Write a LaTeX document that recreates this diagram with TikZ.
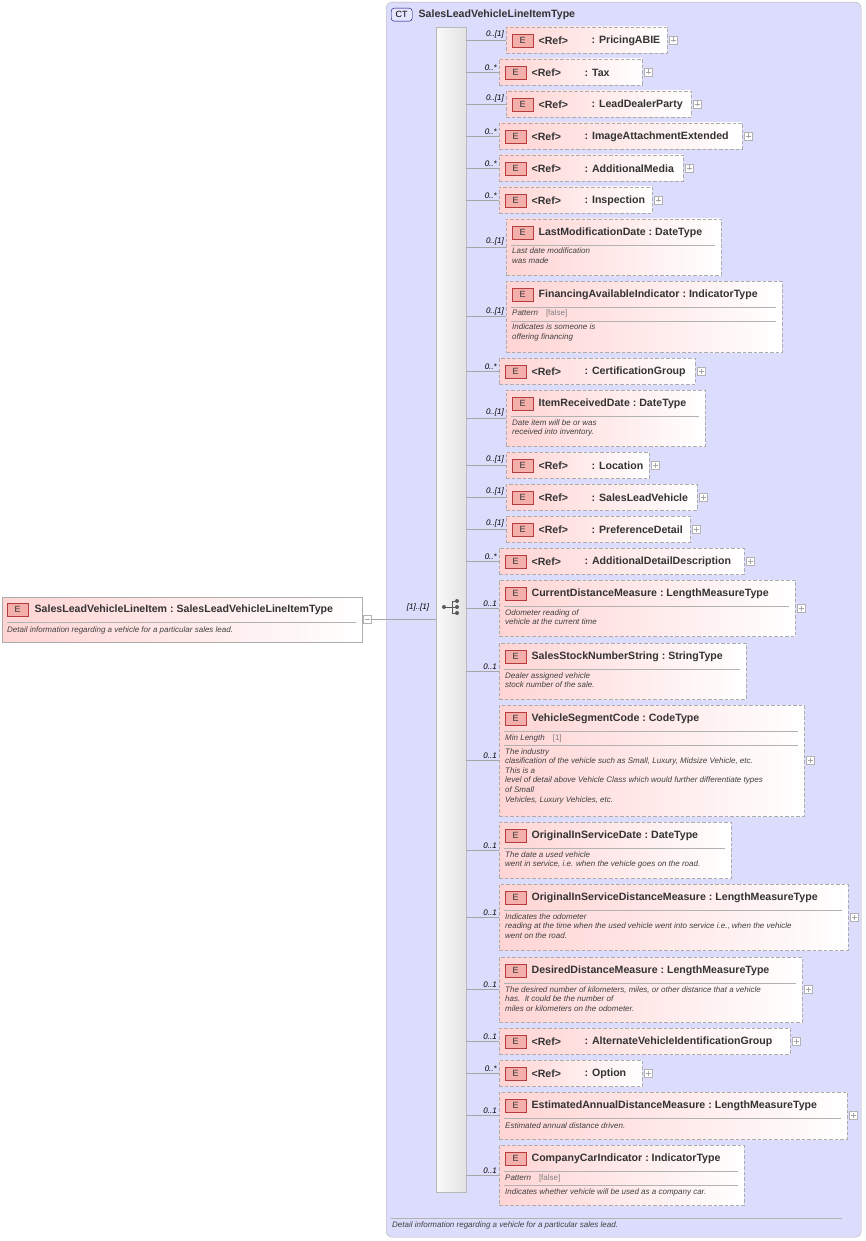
\documentclass[tikz,border=0pt]{standalone}
\usepackage{fontspec}
\setmainfont{Liberation Sans}
\begin{document}
\begin{tikzpicture}[x=1pt,y=-1pt,
 ebox/.style={draw=gray!65,dash pattern=on 3.5pt off 2pt,left color=epink,right color=white,inner sep=0,outer sep=0},
 mbox/.style={draw=gray!65,left color=epink,right color=white,inner sep=0,outer sep=0},
 conn/.style={draw=gray!70,line width=0.6pt},
 mult/.style={font=\fontsize{8}{9}\selectfont\itshape,inner sep=1pt},
 badge/.style={draw=ered,fill=ebadge,minimum width=21pt,minimum height=13pt,inner sep=0,font=\fontsize{9}{10}\selectfont,text=black!80},
 ttl/.style={font=\fontsize{10.6}{12}\selectfont\bfseries,text=black!80,inner sep=0},
 desc/.style={font=\fontsize{8}{9.6}\selectfont\itshape,text=black!75,align=left,inner sep=0},
 sepl/.style={draw=gray!60,line width=0.6pt},
 plusbox/.style={draw=gray!60,fill=white,minimum size=8pt,inner sep=0,
   path picture={\draw[gray!70] ([xshift=-2.5pt]path picture bounding box.center)--([xshift=2.5pt]path picture bounding box.center);
   \draw[gray!70] ([yshift=-2.5pt]path picture bounding box.center)--([yshift=2.5pt]path picture bounding box.center);}},
]
\definecolor{epink}{RGB}{255,212,212}
\definecolor{ered}{RGB}{180,60,60}
\definecolor{ebadge}{RGB}{245,175,170}
\definecolor{ctbg}{RGB}{220,220,252}
\useasboundingbox (0,0) rectangle (866,1241);
\newcommand\BOX[6]{%
 \node[ebox,minimum width={#4-#2},minimum height={#5-#3},anchor=north west] (#1) at (#2,#3) {};
 \draw[conn] (seq.east |- #1.west) -- (#1.west);
 \node[mult,anchor=south east] at ([xshift=-1pt,yshift=0.5pt]#1.west) {#6};
 \node[badge,anchor=north west] (#1b) at ([xshift=6pt,yshift=-7pt]#1.north west) {E};}
\newcommand\REFT[2]{%
 \node[ttl,anchor=west] at ([xshift=5pt]#1b.east) {<Ref>};
 \node[ttl,anchor=west] at ([xshift=58pt]#1b.east) {: #2};}
\newcommand\TT[2]{\node[ttl,anchor=west] (#1t) at ([xshift=5pt]#1b.east) {#2};}
\newcommand\SEP[2]{\draw[sepl] ([xshift=5pt,yshift=-#2pt]#1.north west) -- ([xshift=-6pt,yshift=-#2pt]#1.north east);}
\newcommand\DESC[3]{\node[desc,anchor=north west] at ([xshift=6pt,yshift=-#2pt]#1.north west) {#3};}
\newcommand\PLUS[1]{\node[plusbox] (#1p) at ([xshift=6pt]#1.east) {};}
\newcommand\PAT[3]{\node[desc,anchor=north west] at ([xshift=6pt,yshift=-#2pt]#1.north west) {#3};}
\newcommand\CO{\ :\ }

% complex type container
\node[draw=gray!60,fill=ctbg,rounded corners=6pt,minimum width=475pt,minimum height=1235pt,anchor=north west,inner sep=0] (ct) at (386,2) {};
\node[draw=blue!40!black,fill=blue!10,rounded corners=3pt,minimum width=21pt,minimum height=13pt,inner sep=0,anchor=north west,font=\fontsize{9}{10}\selectfont] (ctb) at (391,8) {CT};
\node[ttl,anchor=west] (ctt) at ([xshift=6pt]ctb.east) {SalesLeadVehicleLineItemType};
\draw[sepl] (391,1218) -- (842,1218);
\node[desc,anchor=north west] (ctd) at (392,1221) {Detail information regarding a vehicle for a particular sales lead.};

% sequence bar
\node[draw=gray!55,left color=gray!5,right color=gray!22,minimum width=30pt,minimum height=1165pt,anchor=north west,inner sep=0] (seq) at (436,27) {};
\fill[gray!70!black] (444,607) circle (2pt) (457,601) circle (2pt) (457,607) circle (2pt) (457,613) circle (2pt);
\draw[gray!70!black,line width=0.9pt] (444,607) -- (452,607) (452,601) -- (452,613) (452,601) -- (457,601) (452,607) -- (457,607) (452,613) -- (457,613);

% main element
\node[mbox,minimum width=360pt,minimum height=45pt,anchor=north west] (main) at (2,597) {};
\node[badge,anchor=north west] (mainb) at (7,603) {E};
\node[ttl,anchor=west] at ([xshift=6pt]mainb.east) {SalesLeadVehicleLineItem\CO SalesLeadVehicleLineItemType};
\draw[sepl] (7,622) -- (356,622);
\node[desc,anchor=north west] at (7,626) {Detail information regarding a vehicle for a particular sales lead.};
\node[draw=gray!60,fill=white,minimum size=8pt,inner sep=0] (minus) at (367,619) {};
\draw[gray!70] (364.5,619) -- (369.5,619);
\draw[conn] (minus.east) -- (seq.west |- minus.east);
\node[mult,anchor=south] at (418,612) {[1]..[1]};

% children
\BOX{e1}{506}{27}{667}{53}{0..[1]}\REFT{e1}{PricingABIE}\PLUS{e1}
\BOX{e2}{499}{59}{642}{85}{0..*}\REFT{e2}{Tax}\PLUS{e2}
\BOX{e3}{506}{91}{691}{117}{0..[1]}\REFT{e3}{LeadDealerParty}\PLUS{e3}
\BOX{e4}{499}{123}{742}{149}{0..*}\REFT{e4}{ImageAttachmentExtended}\PLUS{e4}
\BOX{e5}{499}{155}{683}{181}{0..*}\REFT{e5}{AdditionalMedia}\PLUS{e5}
\BOX{e6}{499}{187}{652}{213}{0..*}\REFT{e6}{Inspection}\PLUS{e6}
\BOX{e7}{506}{219}{721}{275}{0..[1]}\TT{e7}{LastModificationDate\CO DateType}\SEP{e7}{26}
 \DESC{e7}{29}{Last date modification\\was made}
\BOX{e8}{506}{281}{782}{352}{0..[1]}\TT{e8}{FinancingAvailableIndicator\CO IndicatorType}\SEP{e8}{26}
 \PAT{e8}{29}{Pattern\quad{\upshape\color{gray}[false]}}\SEP{e8}{40}
 \DESC{e8}{43}{Indicates is someone is\\offering financing}
\BOX{e9}{499}{358}{695}{384}{0..*}\REFT{e9}{CertificationGroup}\PLUS{e9}
\BOX{e10}{506}{390}{705}{446}{0..[1]}\TT{e10}{ItemReceivedDate\CO DateType}\SEP{e10}{26}
 \DESC{e10}{29}{Date item will be or was\\received into inventory.}
\BOX{e11}{506}{452}{649}{478}{0..[1]}\REFT{e11}{Location}\PLUS{e11}
\BOX{e12}{506}{484}{697}{510}{0..[1]}\REFT{e12}{SalesLeadVehicle}\PLUS{e12}
\BOX{e13}{506}{516}{690}{542}{0..[1]}\REFT{e13}{PreferenceDetail}\PLUS{e13}
\BOX{e14}{499}{548}{744}{574}{0..*}\REFT{e14}{AdditionalDetailDescription}\PLUS{e14}
\BOX{e15}{499}{580}{795}{636}{0..1}\TT{e15}{CurrentDistanceMeasure\CO LengthMeasureType}\SEP{e15}{26}\PLUS{e15}
 \DESC{e15}{29}{Odometer reading of\\vehicle at the current time}
\BOX{e16}{499}{643}{746}{699}{0..1}\TT{e16}{SalesStockNumberString\CO StringType}\SEP{e16}{26}
 \DESC{e16}{29}{Dealer assigned vehicle\\stock number of the sale.}
\BOX{e17}{499}{705}{804}{816}{0..1}\TT{e17}{VehicleSegmentCode\CO CodeType}\SEP{e17}{26}\PLUS{e17}
 \PAT{e17}{29}{Min Length\quad{\upshape\color{gray}[1]}}\SEP{e17}{40}
 \DESC{e17}{43}{The industry\\clasification of the vehicle such as Small, Luxury, Midsize Vehicle, etc.\\This is a\\level of detail above Vehicle Class which would further differentiate types\\of Small\\Vehicles, Luxury Vehicles, etc.}
\BOX{e18}{499}{822}{731}{878}{0..1}\TT{e18}{OriginalInServiceDate\CO DateType}\SEP{e18}{26}
 \DESC{e18}{29}{The date a used vehicle\\went in service, i.e. when the vehicle goes on the road.}
\BOX{e19}{499}{884}{848}{950}{0..1}\TT{e19}{OriginalInServiceDistanceMeasure\CO LengthMeasureType}\SEP{e19}{26}\PLUS{e19}
 \DESC{e19}{29}{Indicates the odometer\\reading at the time when the used vehicle went into service i.e., when the vehicle\\went on the road.}
\BOX{e20}{499}{957}{802}{1022}{0..1}\TT{e20}{DesiredDistanceMeasure\CO LengthMeasureType}\SEP{e20}{26}\PLUS{e20}
 \DESC{e20}{29}{The desired number of kilometers, miles, or other distance that a vehicle\\has.\ \ It could be the number of\\miles or kilometers on the odometer.}
\BOX{e21}{499}{1028}{790}{1054}{0..1}\REFT{e21}{AlternateVehicleIdentificationGroup}\PLUS{e21}
\BOX{e22}{499}{1060}{642}{1086}{0..*}\REFT{e22}{Option}\PLUS{e22}
\BOX{e23}{499}{1092}{847}{1139}{0..1}\TT{e23}{EstimatedAnnualDistanceMeasure\CO LengthMeasureType}\SEP{e23}{26}\PLUS{e23}
 \DESC{e23}{30}{Estimated annual distance driven.}
\BOX{e24}{499}{1145}{744}{1205}{0..1}\TT{e24}{CompanyCarIndicator\CO IndicatorType}\SEP{e24}{26}
 \PAT{e24}{29}{Pattern\quad{\upshape\color{gray}[false]}}\SEP{e24}{40}
 \DESC{e24}{43}{Indicates whether vehicle will be used as a company car.}
\end{tikzpicture}
\end{document}
